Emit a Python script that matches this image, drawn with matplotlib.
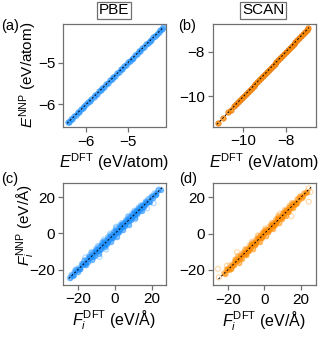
import matplotlib
matplotlib.use('Agg')
import matplotlib.pyplot as plt

plt.rcParams['font.family'] = 'Liberation Sans'
plt.rcParams['mathtext.fontset'] = 'custom'
plt.rcParams['mathtext.rm'] = 'Liberation Sans'
plt.rcParams['mathtext.it'] = 'Liberation Sans:italic'
plt.rcParams['font.size'] = 11

azul = '#1E90FF'
naranja = '#FF8C00'
gris = '#707070'

# (a) PBE energias
pbe_e_dft = [-6.44, -6.41, -6.36, -6.33, -6.29, -6.24, -6.20, -6.17, -6.12, -6.08,
             -6.04, -5.99, -5.95, -5.91, -5.87, -5.82, -5.78, -5.74, -5.69, -5.65,
             -5.61, -5.56, -5.52, -5.48, -5.43, -5.39, -5.35, -5.30, -5.26, -5.22,
             -5.17, -5.13, -5.09, -5.04, -5.00, -4.96, -4.91, -4.87, -4.83, -4.78,
             -4.74, -4.70, -4.65, -4.61, -4.57, -4.52, -4.48, -4.44, -4.39, -4.35,
             -4.31, -4.26, -4.22, -4.18, -4.15]
pbe_e_nnp = [-6.43, -6.42, -6.35, -6.34, -6.28, -6.25, -6.19, -6.18, -6.11, -6.09,
             -6.03, -6.00, -5.94, -5.92, -5.86, -5.83, -5.77, -5.75, -5.68, -5.66,
             -5.60, -5.57, -5.51, -5.49, -5.42, -5.40, -5.34, -5.31, -5.25, -5.23,
             -5.16, -5.14, -5.08, -5.05, -4.99, -4.97, -4.90, -4.88, -4.82, -4.79,
             -4.73, -4.71, -4.64, -4.62, -4.56, -4.53, -4.47, -4.45, -4.38, -4.36,
             -4.30, -4.27, -4.21, -4.19, -4.14]

# (b) SCAN energias
scan_e_dft = [-11.22, -10.95, -10.72, -10.58, -10.46, -10.35, -10.25, -10.15, -10.06, -9.97,
              -9.88, -9.79, -9.70, -9.61, -9.52, -9.43, -9.34, -9.25, -9.16, -9.07,
              -8.98, -8.89, -8.80, -8.71, -8.62, -8.53, -8.44, -8.35, -8.26, -8.17,
              -8.08, -7.99, -7.90, -7.81, -7.72, -7.63, -7.54, -7.45, -7.36, -7.27,
              -7.18, -7.09, -7.00, -6.93]
scan_e_nnp = [-11.21, -10.96, -10.71, -10.59, -10.45, -10.36, -10.24, -10.16, -10.05, -9.98,
              -9.87, -9.80, -9.69, -9.62, -9.51, -9.44, -9.33, -9.26, -9.15, -9.08,
              -8.97, -8.90, -8.79, -8.72, -8.61, -8.54, -8.43, -8.36, -8.25, -8.18,
              -8.07, -8.00, -7.89, -7.82, -7.71, -7.64, -7.53, -7.46, -7.35, -7.28,
              -7.17, -7.10, -6.99, -6.94]

# (c) PBE fuerzas: nube central y puntos sueltos
pbe_f_dft = [-24.5, -23.6, -22.8, -21.9, -21.0, -20.2, -19.5, -18.7, -18.0, -17.3,
             -16.6, -15.9, -15.2, -14.6, -14.0, -13.4, -12.8, -12.2, -11.6, -11.0,
             -10.4, -9.8, -9.3, -8.7, -8.1, -7.6, -7.0, -6.5, -6.0, -5.4,
             -4.9, -4.3, -3.8, -3.3, -2.7, -2.2, -1.6, -1.1, -0.6, 0.0,
             0.5, 1.0, 1.6, 2.1, 2.6, 3.2, 3.7, 4.3, 4.8, 5.3,
             5.9, 6.4, 7.0, 7.5, 8.1, 8.6, 9.2, 9.7, 10.3, 10.8,
             11.4, 12.0, 12.6, 13.2, 13.8, 14.4, 15.0, 15.7, 16.4, 17.1,
             17.9, 18.7, 19.5, 20.4, 21.3, 22.3, 23.4, 24.6,
             -12.5, -10.7, -9.0, -7.3, -5.7, -4.0, -2.4, -0.8, 0.8, 2.4,
             4.0, 5.6, 7.2, 8.9, 10.5, 12.3, 14.1, -14.3, -16.2, 16.0,
             -20.8, -19.1, -17.6, -15.5, -13.7, -11.9, -10.1, -8.4, -6.8, -5.1,
             -3.5, -1.9, -0.3, 1.3, 2.9, 4.5, 6.1, 7.7, 9.4, 11.0,
             12.9, 14.7, 16.8, 18.3, 20.0, 21.8, -22.3, -6.2, 3.4, 11.7]
pbe_f_nnp = [-24.8, -22.9, -23.5, -21.2, -20.5, -21.4, -19.0, -19.6, -16.9, -17.5,
             -14.9, -17.6, -14.5, -15.8, -12.3, -13.6, -10.4, -14.6, -11.0, -12.5,
             -8.6, -9.9, -6.9, -11.3, -7.5, -8.9, -4.9, -6.6, -3.4, -7.8,
             -4.4, -5.7, -1.9, -3.4, -0.1, -4.6, -1.0, -2.4, 1.2, -0.1,
             3.1, -1.8, 2.1, 0.8, 4.7, 2.8, 5.8, 1.9, 5.6, 4.1,
             7.6, 6.3, 9.5, 4.8, 8.9, 7.5, 11.0, 9.6, 12.6, 8.6,
             12.2, 10.9, 14.3, 13.1, 15.5, 12.4, 15.7, 14.7, 17.6, 17.0,
             19.1, 17.6, 20.2, 19.5, 22.3, 21.8, 23.9, 24.2,
             -12.0, -10.2, -9.6, -6.8, -5.2, -4.5, -1.9, -1.3, 1.4, 1.9,
             4.6, 5.0, 7.8, 8.3, 11.1, 11.7, 14.6, -13.8, -16.7, 15.6,
             -20.1, -19.9, -16.8, -16.3, -12.9, -12.8, -9.2, -9.3, -5.9, -6.0,
             -2.6, -2.8, 0.6, 0.4, 3.8, 3.6, 7.0, 6.8, 10.3, 10.1,
             13.8, 13.9, 17.6, 17.5, 20.8, 21.1, -22.9, -7.0, 4.3, 12.6]
pbe_f_sueltos_dft = [20.8, 17.2, 0.5, -8.4, -16.0, -24.0, -21.3, 10.9, 23.5, -4.8]
pbe_f_sueltos_nnp = [16.7, 13.9, 3.7, -13.0, -13.3, -24.4, -20.0, 7.8, 24.4, -8.9]

# (d) SCAN fuerzas: nube central y puntos sueltos
scan_f_dft = [-22.0, -21.2, -20.3, -19.5, -18.8, -18.0, -17.2, -16.5, -15.8, -15.1,
              -14.4, -13.7, -13.0, -12.3, -11.7, -11.0, -10.4, -9.8, -9.1, -8.5,
              -7.9, -7.3, -6.7, -6.1, -5.5, -4.9, -4.3, -3.7, -3.1, -2.5,
              -1.9, -1.3, -0.7, -0.1, 0.5, 1.1, 1.7, 2.3, 2.9, 3.5,
              4.1, 4.7, 5.3, 5.9, 6.5, 7.1, 7.7, 8.3, 8.9, 9.5,
              10.1, 10.7, 11.3, 11.9, 12.5, 13.1, 13.8, 14.5, 15.2, 15.9,
              16.6, 17.3, 18.1, 18.9, 19.8, 20.7, 21.7, 22.8,
              -12.6, -10.9, -9.4, -7.6, -6.0, -4.6, -2.8, -1.0, 0.8, 2.6,
              4.4, 6.2, 7.4, 9.2, 10.4, 12.2, 14.0, -14.8, -16.9, 16.2,
              -20.6, -18.4, -16.0, -13.3, -11.3, -8.8, -7.0, -5.2, -3.4, -1.6,
              0.2, 2.0, 3.8, 5.6, 7.4, 9.9, 11.6, 13.4, 15.5, 17.7,
              19.3, 21.2, 23.6, -0.9, 5.0, -10.0]
scan_f_nnp = [-21.7, -22.2, -19.5, -19.9, -17.6, -19.5, -16.5, -17.5, -14.2, -15.3,
              -12.1, -16.2, -12.7, -13.8, -10.5, -11.4, -8.5, -11.9, -8.4, -9.5,
              -6.3, -7.5, -4.4, -8.6, -5.2, -6.4, -3.1, -4.1, -1.2, -4.6,
              -1.2, -2.3, 0.9, -0.3, 2.8, -1.4, 2.0, 0.8, 4.1, 3.1,
              6.0, 2.6, 6.0, 4.9, 8.1, 6.9, 10.0, 5.8, 9.2, 8.0,
              11.3, 10.3, 13.2, 9.8, 13.2, 12.1, 15.4, 14.3, 17.0, 14.3,
              16.9, 16.1, 19.1, 18.5, 20.7, 19.9, 22.2, 22.5,
              -12.1, -11.4, -8.9, -8.1, -5.5, -5.1, -2.3, -1.5, 1.3, 2.1,
              4.9, 5.7, 7.9, 8.7, 10.9, 11.7, 14.5, -14.3, -17.4, 15.7,
              -20.0, -19.1, -15.2, -14.0, -10.6, -9.6, -6.2, -5.9, -2.6, -2.3,
              1.0, 1.3, 4.6, 4.9, 8.2, 9.2, 12.4, 12.7, 16.2, 17.0,
              20.0, 20.5, 23.2, 0.1, 4.1, -11.0]
scan_f_sueltos_dft = [24.3, 24.3, 14.8, -14.9, -25.3, -20.4, -24.9, -3.4, 8.7, 25.2]
scan_f_sueltos_nnp = [17.6, 25.0, 9.6, -10.2, -19.4, -17.6, -24.1, -0.9, 11.1, 23.0]

W, H = 327, 339
fig = plt.figure(figsize=(W / 100, H / 100), dpi=100)


def caja(x0, y0, x1, y1):
    return fig.add_axes([x0 / W, 1 - y1 / H, (x1 - x0) / W, (y1 - y0) / H])


ax_a = caja(63, 23.5, 165.5, 127)
ax_b = caja(212.5, 23.5, 315.8, 126.5)
ax_c = caja(63, 182.7, 165.7, 284.5)
ax_d = caja(212.7, 182.7, 316, 285)

ax_a.scatter(pbe_e_dft, pbe_e_nnp, s=16, color=azul, alpha=0.55, edgecolors=azul, linewidths=0.6)
ax_a.plot([-6.45, -4.15], [-6.45, -4.15], color='k', lw=0.7, dashes=(2, 2))

ax_b.scatter(scan_e_dft, scan_e_nnp, s=15, color=naranja, alpha=0.8, edgecolors='#E07000', linewidths=0.6)
ax_b.plot([-11.25, -6.9], [-11.25, -6.9], color='k', lw=0.7, dashes=(2, 2))

ax_c.scatter(pbe_f_dft, pbe_f_nnp, s=16, color=azul, alpha=0.5, linewidths=0)
ax_c.scatter(pbe_f_dft + pbe_f_sueltos_dft, pbe_f_nnp + pbe_f_sueltos_nnp, s=13,
             facecolors='none', edgecolors=azul, alpha=0.35, linewidths=0.8)
ax_c.plot([-25, 26], [-25, 26], color='k', lw=0.7, dashes=(2, 2))

ax_d.scatter(scan_f_dft, scan_f_nnp, s=16, color=naranja, alpha=0.5, linewidths=0)
ax_d.scatter(scan_f_dft + scan_f_sueltos_dft, scan_f_nnp + scan_f_sueltos_nnp, s=13,
             facecolors='none', edgecolors=naranja, alpha=0.35, linewidths=0.8)
ax_d.plot([-25, 26], [-25, 26], color='k', lw=0.7, dashes=(2, 2))

ax_a.set_xlim(-6.55, -4.10)
ax_a.set_ylim(-6.54, -4.06)
ax_a.set_xticks([-6, -5])
ax_a.set_yticks([-6, -5])
ax_b.set_xlim(-11.46, -6.58)
ax_b.set_ylim(-11.35, -6.72)
ax_b.set_xticks([-10, -8])
ax_b.set_yticks([-10, -8])
ax_c.set_xlim(-28.1, 27.3)
ax_c.set_ylim(-28.3, 28.1)
ax_d.set_xlim(-28.2, 28.3)
ax_d.set_ylim(-28.3, 28.1)
for ax in (ax_c, ax_d):
    ax.set_xticks([-20, 0, 20])
    ax.set_yticks([-20, 0, 20])

for ax in (ax_a, ax_b, ax_c, ax_d):
    for s in ax.spines.values():
        s.set_color(gris)
        s.set_linewidth(0.9)
    ax.tick_params(direction='out', length=3.5, width=0.9, color=gris, labelsize=11, pad=2)

ax_a.set_xlabel(r'$E^{\rm DFT}$ (eV/atom)', fontsize=11.5, labelpad=2)
ax_a.set_ylabel(r'$E^{\rm NNP}$ (eV/atom)', fontsize=11)
ax_a.yaxis.set_label_coords(-0.23, 0.5)
ax_b.set_xlabel(r'$E^{\rm DFT}$ (eV/atom)', fontsize=11.5, labelpad=2)
ax_c.set_xlabel(r'$F_i^{\rm DFT}$ (eV/Å)', fontsize=11.5, labelpad=2)
ax_c.set_ylabel(r'$F_i^{\rm NNP}$ (eV/Å)', fontsize=11)
ax_c.yaxis.set_label_coords(-0.255, 0.58)
ax_d.set_xlabel(r'$F_i^{\rm DFT}$ (eV/Å)', fontsize=11.5, labelpad=2)

caja_titulo = dict(boxstyle='square,pad=0.12', facecolor='white', edgecolor=gris, linewidth=0.9)
fig.text(114 / W, 1 - 10.5 / H, 'PBE', ha='center', va='center', fontsize=11, bbox=caja_titulo)
fig.text(263 / W, 1 - 10.5 / H, 'SCAN', ha='center', va='center', fontsize=11, bbox=caja_titulo)

fig.text(1 / W, 1 - 26 / H, '(a)', ha='left', va='center', fontsize=10.5)
fig.text(178 / W, 1 - 26 / H, '(b)', ha='left', va='center', fontsize=10.5)
fig.text(1 / W, 1 - 179 / H, '(c)', ha='left', va='center', fontsize=10.5)
fig.text(179 / W, 1 - 179 / H, '(d)', ha='left', va='center', fontsize=10.5)

plt.savefig('out.png', dpi=100)
